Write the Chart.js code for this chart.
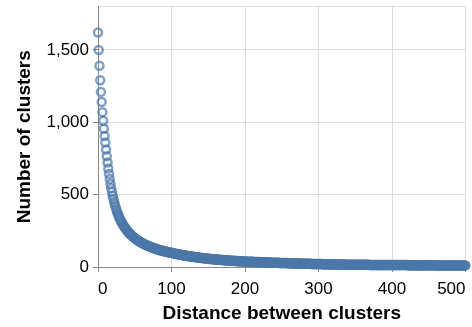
<!DOCTYPE html>
<html>
<head>
<meta charset="utf-8">
<script src="https://cdn.jsdelivr.net/npm/chart.js@4.4.1/dist/chart.umd.min.js"></script>
<style>
html,body{margin:0;padding:0;background:#fff;}
canvas{display:block;}
</style>
</head>
<body>
<canvas id="c" width="472" height="327"></canvas>
<script>
// Distance between clusters (x = 0, 1, 2, ...)
const distanceStart = 0;
// Number of clusters at each distance (rows of 10)
const clusterCounts = [
  1620,1500,1390,1290,1210,1140,1070,1010,955,905,
  860,812,766,722,681,643,608,575,545,518,
  493,470,449,430,412,396,381,367,354,342,
  331,320,310,301,292,284,276,269,262,255,
  249,243,237,232,227,222,217,212,208,204,
  200,196,192,188,185,181,178,175,172,169,
  166,163,160,158,155,153,150,148,146,144,
  142,140,138,136,134,132,130,128,127,125,
  123,122,120,119,117,116,114,113,112,110,
  109,108,107,105,104,103,102,101,100,99,
  98,97,96,94,93,92,91,90,89,88,
  87,86,85,84,83,82,81,80,79,79,
  78,77,76,75,74,74,73,72,71,71,
  70,69,69,68,67,67,66,65,65,64,
  63,63,62,62,61,60,60,59,59,58,
  57,57,56,56,55,55,54,54,53,53,
  52,52,51,51,51,50,50,49,49,48,
  48,48,47,47,46,46,46,45,45,45,
  44,44,44,43,43,43,42,42,42,41,
  41,41,40,40,40,40,39,39,39,38,
  38,38,38,37,37,37,37,36,36,36,
  36,36,35,35,35,35,34,34,34,34,
  34,33,33,33,33,33,32,32,32,32,
  32,31,31,31,31,31,30,30,30,30,
  30,30,29,29,29,29,29,28,28,28,
  28,28,28,27,27,27,27,27,27,26,
  26,26,26,26,26,25,25,25,25,25,
  25,24,24,24,24,24,24,23,23,23,
  23,23,23,23,22,22,22,22,22,22,
  22,21,21,21,21,21,21,21,20,20,
  20,20,20,20,20,20,19,19,19,19,
  19,19,19,19,19,18,18,18,18,18,
  18,18,18,18,18,17,17,17,17,17,
  17,17,17,17,17,17,17,16,16,16,
  16,16,16,16,16,16,16,16,16,16,
  16,16,15,15,15,15,15,15,15,15,
  15,15,15,15,15,15,15,15,15,14,
  14,14,14,14,14,14,14,14,14,14,
  14,14,14,14,14,14,14,14,14,14,
  14,14,14,14,14,13,13,13,13,13,
  13,13,13,13,13,13,13,13,13,13,
  13,13,13,13,13,13,13,13,13,13,
  13,13,12,12,12,12,12,12,12,12,
  12,12,12,12,12,12,12,12,12,12,
  12,12,12,12,12,12,12,12,12,12,
  12,12,12,12,12,12,12,12,12,12,
  12,12,11,11,11,11,11,11,11,11,
  11,11,11,11,11,11,11,11,11,11,
  11,11,11,11,11,11,11,11,11,11,
  11,11,11,11,11,11,11,11,11,11,
  11
];
const xTicks = [0, 100, 200, 300, 400, 500];
const yTicks = [0, 500, 1000, 1500];
const xMax = 500;
const yMax = 1800;
const xTitle = 'Distance between clusters';
const yTitle = 'Number of clusters';

const points = clusterCounts.map((v, i) => ({ x: distanceStart + i, y: v }));
const FONT = '"Liberation Sans", Arial, Helvetica, sans-serif';

new Chart(document.getElementById('c'), {
  type: 'scatter',
  data: {
    datasets: [{
      data: points,
      pointRadius: 4,
      pointHoverRadius: 4,
      pointBorderWidth: 2.5,
      pointBackgroundColor: 'rgba(0,0,0,0)',
      pointBorderColor: 'rgba(76,120,168,0.7)',
      clip: false
    }]
  },
  options: {
    responsive: false,
    animation: false,
    events: [],
    layout: { padding: { left: 0, right: 6, top: 6, bottom: 0 } },
    plugins: { legend: { display: false }, tooltip: { enabled: false } },
    scales: {
      x: {
        type: 'linear',
        min: 0, max: xMax,
        afterBuildTicks: s => { s.ticks = xTicks.map(v => ({ value: v })); },
        afterFit: s => { s.height = 60; s.paddingLeft = 0; s.paddingRight = 0; },
        ticks: {
          color: '#000',
          font: { family: FONT, size: 17 },
          padding: 7,
          align: 'inner',
          maxRotation: 0,
          callback: v => v.toLocaleString('en-US')
        },
        grid: { color: '#ddd', tickColor: '#888', tickLength: 5, lineWidth: 1 },
        border: { color: '#888', width: 1 },
        title: {
          display: true, text: xTitle, color: '#000',
          font: { family: FONT, size: 19, weight: 'bold' },
          padding: { top: 0, bottom: 2 }
        }
      },
      y: {
        type: 'linear',
        min: 0, max: yMax,
        afterBuildTicks: s => { s.ticks = yTicks.concat([yMax]).map(v => ({ value: v })); },
        afterFit: s => { s.width = 98; s.paddingTop = 0; s.paddingBottom = 0; },
        ticks: {
          color: '#000',
          font: { family: FONT, size: 17 },
          padding: 4,
          callback: v => (yTicks.includes(v) ? v.toLocaleString('en-US') : '')
        },
        grid: {
          color: '#ddd',
          tickColor: c => (c.tick && yTicks.includes(c.tick.value) ? '#888' : 'rgba(0,0,0,0)'),
          tickLength: 5, lineWidth: 1
        },
        border: { color: '#888', width: 1 },
        title: {
          display: true, text: yTitle, color: '#000',
          font: { family: FONT, size: 19, weight: 'bold' },
          padding: { top: 13, bottom: 0 }
        }
      }
    }
  }
});
</script>
</body>
</html>
